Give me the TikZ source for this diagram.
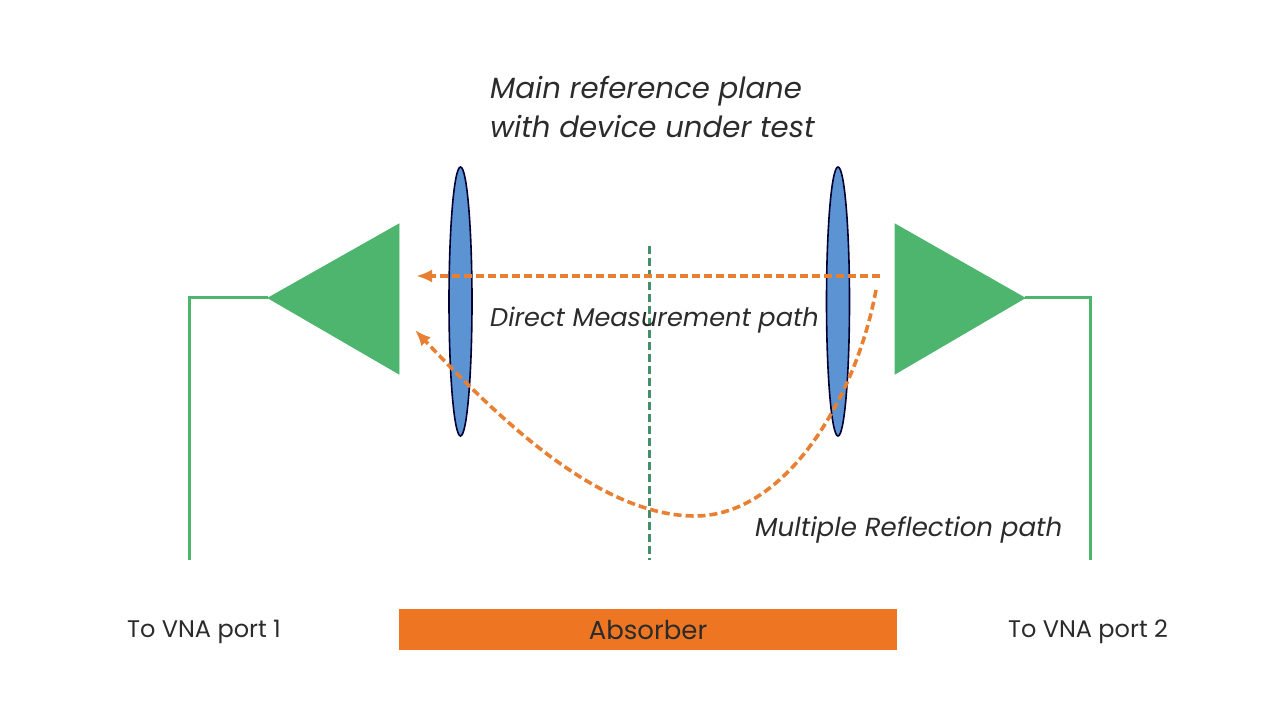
\documentclass[tikz,border=0pt]{standalone}
\usepackage{fontspec}
\setmainfont{Poppins}
\usetikzlibrary{shapes.geometric,arrows.meta}
\definecolor{hornGreen}{HTML}{4DB56E}
\definecolor{axisGreen}{HTML}{458F66}
\definecolor{lensBlue}{HTML}{5B93D3}
\definecolor{pathOrange}{HTML}{E88033}
\definecolor{absorberOrange}{HTML}{EE7623}
\definecolor{labelInk}{HTML}{2B2B2B}
\tikzset{
  hornshape/.style={fill=hornGreen,draw=hornGreen,line width=0.8bp,line join=miter},
  wire/.style={draw=hornGreen,line width=3bp},
  lens/.style={ellipse,draw=black!80!blue,fill=lensBlue,line width=1.6bp,minimum width=23bp,minimum height=269bp,inner sep=0pt},
  axisline/.style={draw=axisGreen,line width=3bp,dash pattern=on 8bp off 4bp},
  raypath/.style={draw=pathOrange,line width=3.6bp,dash pattern=on 8bp off 4bp,-{Latex[length=16bp,width=13bp]}},
  caption/.style={font=\fontsize{29.2bp}{34bp}\selectfont\itshape,text=labelInk,inner sep=0pt},
  smallcaption/.style={caption,font=\fontsize{25.6bp}{30bp}\selectfont\itshape},
  portlabel/.style={font=\fontsize{24bp}{29bp}\selectfont,text=labelInk,inner sep=0pt},
}
\begin{document}
\begin{tikzpicture}[>=latex,x=1bp,y=1bp]
\useasboundingbox (0bp,0bp) rectangle (1280bp,719bp);
%%
\node (lens_1) at (460.5bp,417.5bp) [lens] {};
\node (lens_2) at (838bp,417.5bp) [lens] {};
\coordinate (axis_top) at (649bp,473bp);
\coordinate (axis_bot) at (649bp,159bp);
\draw [axisline] (axis_top) -- (axis_bot);
%
\draw [hornshape] (399bp,495bp) -- (399bp,345bp) -- (268bp,421bp) -- cycle;
\draw [hornshape] (895bp,495bp) -- (895bp,345bp) -- (1025bp,421bp) -- cycle;
\coordinate (tip_1) at (268bp,421bp);
\coordinate (tip_2) at (1025bp,421bp);
\coordinate (corner_1) at (189bp,421bp);
\coordinate (corner_2) at (1090bp,421bp);
\coordinate (end_1) at (189bp,159bp);
\coordinate (end_2) at (1090bp,159bp);
\draw [wire] (tip_1) -- (corner_1) -- (end_1);
\draw [wire] (tip_2) -- (corner_2) -- (end_2);
%
\coordinate (direct_a) at (880bp,443bp);
\coordinate (direct_b) at (416bp,443bp);
\coordinate (multi_a) at (876bp,429bp);
\coordinate (multi_m) at (695bp,203bp);
\coordinate (multi_b) at (415bp,389bp);
\draw [raypath] (direct_a) -- (direct_b);
\draw [raypath] (multi_a) ..controls (856bp,320bp) and (785bp,203bp) .. (multi_m)
  ..controls (600bp,203bp) and (500bp,299bp) .. (multi_b);
%
\node (title) at (490bp,612bp) [caption,anchor=west,align=left] {Main reference plane\\[5bp]with device under test};
\node (direct) at (490bp,399bp) [smallcaption,anchor=west] {Direct Measurement path};
\node (multi) at (755bp,189bp) [smallcaption,anchor=west,font=\fontsize{26.1bp}{30bp}\selectfont\itshape] {Multiple Reflection path};
%
\node (absorber) at (648bp,89.5bp) [fill=absorberOrange,minimum width=498bp,minimum height=41bp,inner sep=0pt,portlabel,font=\fontsize{26bp}{30bp}\selectfont] {Absorber};
\node (port_1) at (204bp,87bp) [portlabel] {To VNA port 1};
\node (port_2) at (1088bp,87bp) [portlabel] {To VNA port 2};
%
\end{tikzpicture}
\end{document}
